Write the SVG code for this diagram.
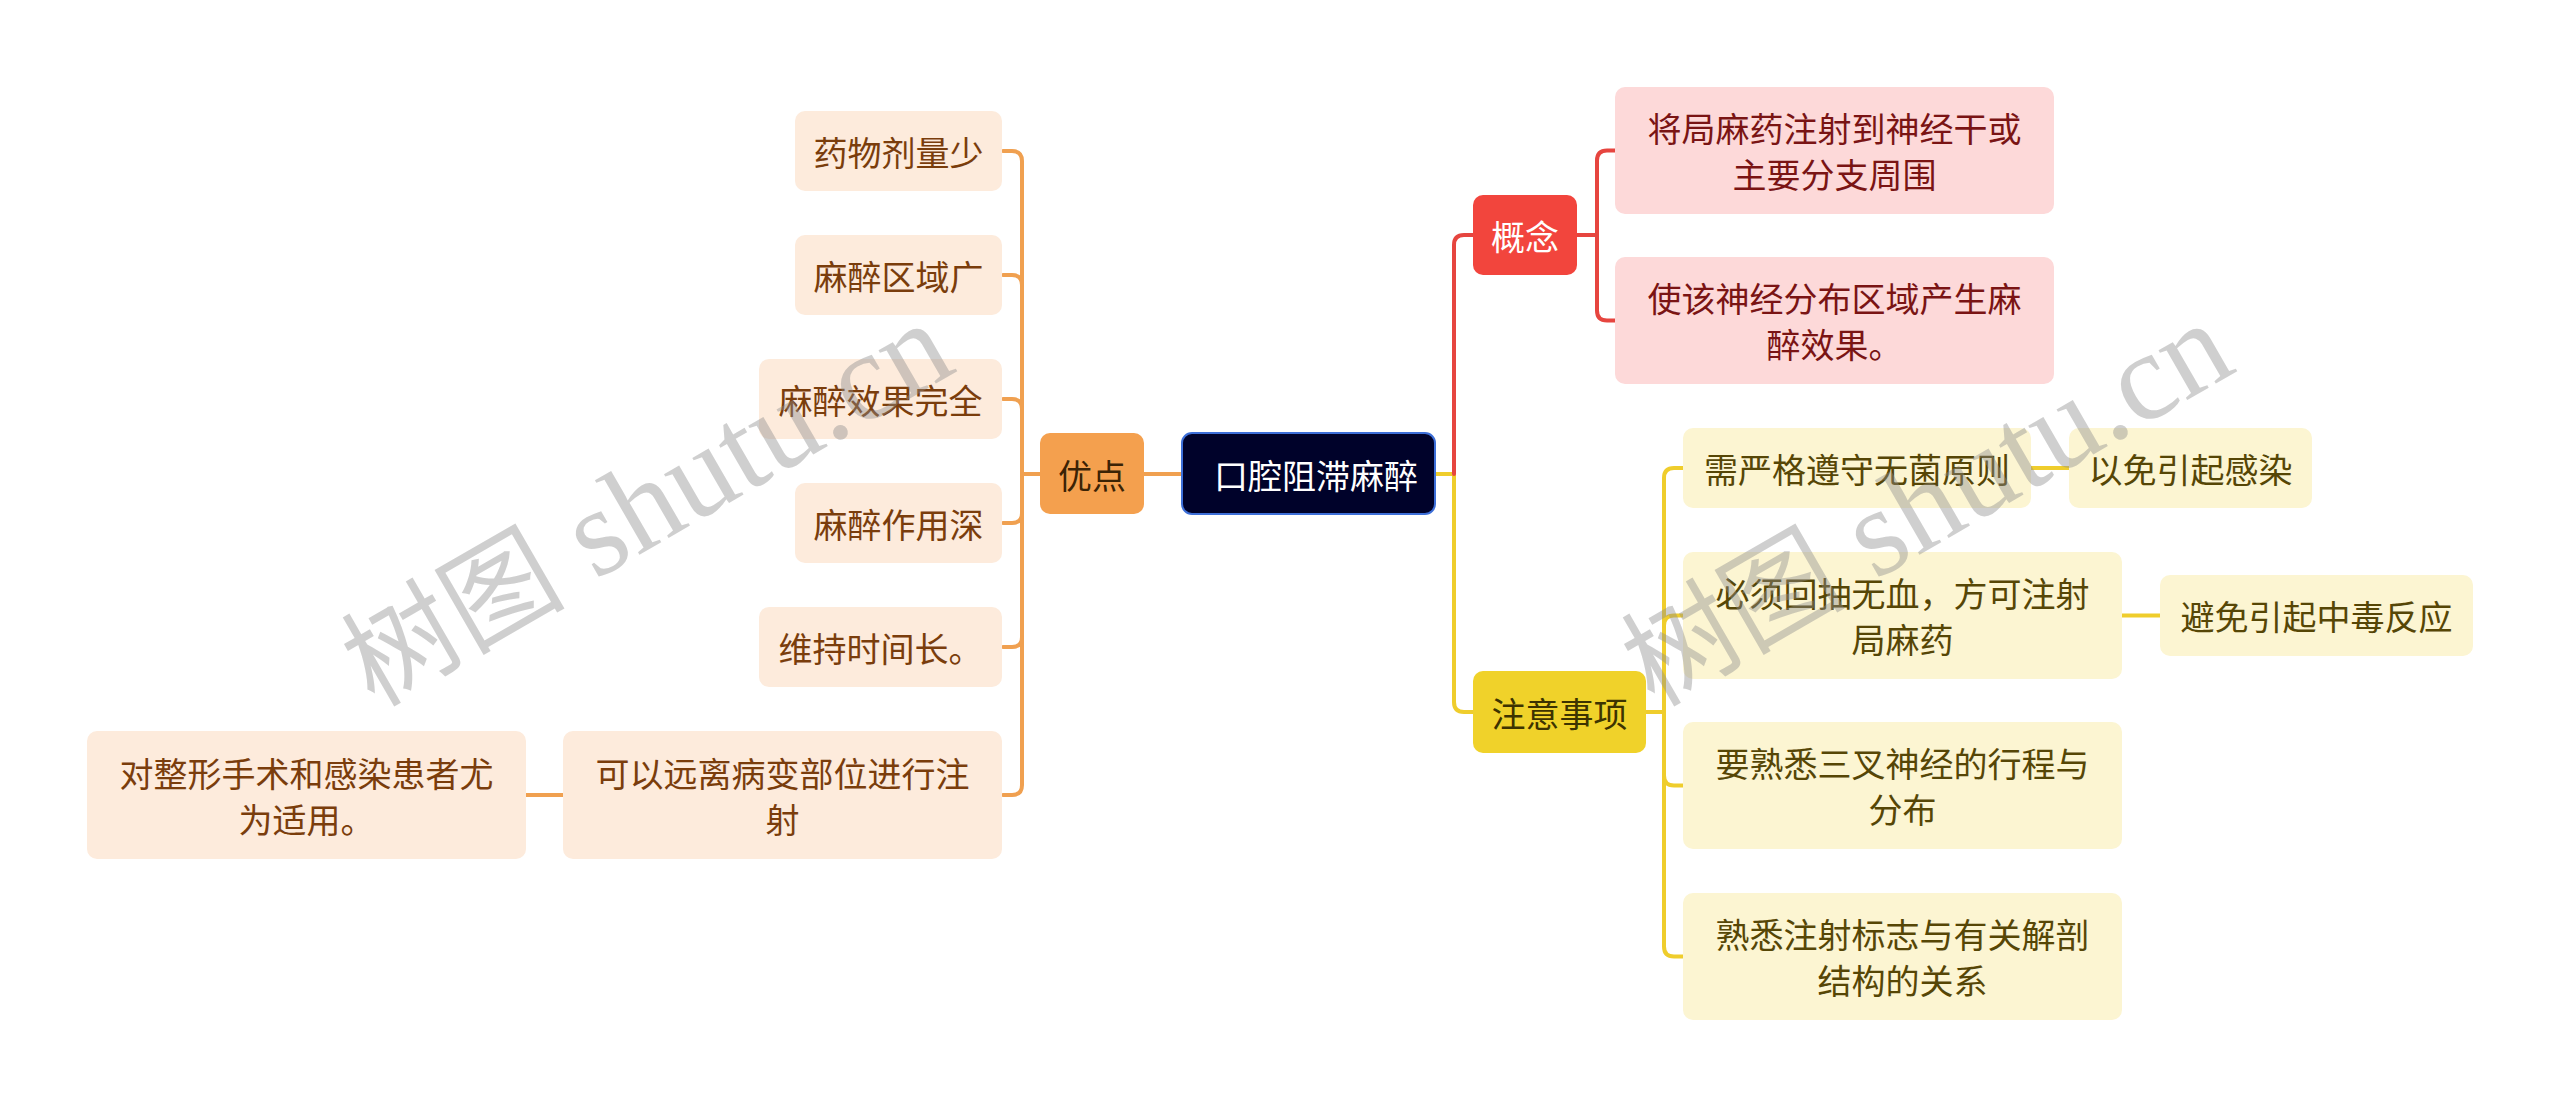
<svg xmlns="http://www.w3.org/2000/svg" width="2560" height="1107" viewBox="0 0 2560 1107">
<style>
text{font-family:"Noto Sans CJK SC","Noto Sans",sans-serif;font-size:34px;text-anchor:middle;dominant-baseline:central}
.ln{fill:none;stroke-width:4;stroke-linecap:round;stroke-linejoin:round}
.o{stroke:#f0a050}.r{stroke:#e6453f}.y{stroke:#efcd2c}
.ob{fill:#fdebdc}.ot{fill:#7a3d0c}
.rb{fill:#fdd9d9}.rt{fill:#7a1414}
.yb{fill:#fcf5d2}.yt{fill:#564606}
.wm{font-family:"Liberation Serif","Noto Sans CJK SC",serif;font-size:125px;text-anchor:start;dominant-baseline:alphabetic;fill:#8c8c8c;fill-opacity:0.42}
.wc{font-family:"Noto Sans CJK SC",serif;font-size:112px}
</style>
<rect width="2560" height="1107" fill="#ffffff"/>
<g id="connectors">
<path class="ln o" d="M1182 474H1144"/>
<path class="ln o" d="M1040 474H1022"/>
<path class="ln o" d="M1003 151H1012Q1022 151 1022 161V785Q1022 795 1012 795H1003"/>
<path class="ln o" d="M1003 275H1012Q1022 275 1022 285"/>
<path class="ln o" d="M1003 399H1012Q1022 399 1022 409"/>
<path class="ln o" d="M1003 523H1012Q1022 523 1022 513"/>
<path class="ln o" d="M1003 647H1012Q1022 647 1022 637"/>
<path class="ln o" d="M563 795H526"/>
<path class="ln y" d="M1435 474H1454V702Q1454 712 1464 712H1473"/>
<path class="ln r" d="M1454 474V245Q1454 235 1464 235H1473"/>
<path class="ln r" d="M1577 235H1597"/>
<path class="ln r" d="M1615 150.5H1607Q1597 150.5 1597 160.5V310.5Q1597 320.5 1607 320.5H1615"/>
<path class="ln y" d="M1646 712H1664"/>
<path class="ln y" d="M1683 468H1674Q1664 468 1664 478V946.5Q1664 956.5 1674 956.5H1683"/>
<path class="ln y" d="M1683 615.5H1674Q1664 615.5 1664 625.5"/>
<path class="ln y" d="M1683 785.5H1674Q1664 785.5 1664 775.5"/>
<path class="ln y" d="M2031 468H2069"/>
<path class="ln y" d="M2122 615.5H2160"/>
</g>
<g id="root"><rect x="1182" y="433" width="253" height="81" rx="10" fill="#00022a" stroke="#3d6fd8" stroke-width="2"/><text x="1316" y="474" fill="#ffffff">口腔阻滞麻醉</text></g>
<g id="youdian"><rect x="1040" y="433" width="104" height="81" rx="10" fill="#f4a04e"/><text x="1092" y="474" fill="#3b2305">优点</text></g>
<g id="o1"><rect class="ob" x="795" y="111" width="207" height="80" rx="10"/><text class="ot" x="898.5" y="151">药物剂量少</text></g>
<g id="o2"><rect class="ob" x="795" y="235" width="207" height="80" rx="10"/><text class="ot" x="898.5" y="275">麻醉区域广</text></g>
<g id="o3"><rect class="ob" x="759" y="359" width="243" height="80" rx="10"/><text class="ot" x="880.5" y="399">麻醉效果完全</text></g>
<g id="o4"><rect class="ob" x="795" y="483" width="207" height="80" rx="10"/><text class="ot" x="898.5" y="523">麻醉作用深</text></g>
<g id="o5"><rect class="ob" x="759" y="607" width="243" height="80" rx="10"/><text class="ot" x="880.5" y="647">维持时间长。</text></g>
<g id="o6"><rect class="ob" x="563" y="731" width="439" height="128" rx="10"/><text class="ot" x="782.5" y="772">可以远离病变部位进行注</text><text class="ot" x="782.5" y="818">射</text></g>
<g id="o7"><rect class="ob" x="87" y="731" width="439" height="128" rx="10"/><text class="ot" x="306.5" y="772">对整形手术和感染患者尤</text><text class="ot" x="306.5" y="818">为适用。</text></g>
<g id="gainian"><rect x="1473" y="195" width="104" height="80" rx="10" fill="#f2453d"/><text x="1525" y="235" fill="#ffffff">概念</text></g>
<g id="r1"><rect class="rb" x="1615" y="87" width="439" height="127" rx="10"/><text class="rt" x="1834.5" y="127.5">将局麻药注射到神经干或</text><text class="rt" x="1834.5" y="173.5">主要分支周围</text></g>
<g id="r2"><rect class="rb" x="1615" y="257" width="439" height="127" rx="10"/><text class="rt" x="1834.5" y="297.5">使该神经分布区域产生麻</text><text class="rt" x="1834.5" y="343.5">醉效果。</text></g>
<g id="zhuyi"><rect x="1473" y="671" width="173" height="82" rx="10" fill="#f0d22a"/><text x="1559.5" y="712" fill="#3d3300">注意事项</text></g>
<g id="y1"><rect class="yb" x="1683" y="428" width="348" height="80" rx="10"/><text class="yt" x="1857" y="468">需严格遵守无菌原则</text></g>
<g id="y1a"><rect class="yb" x="2069" y="428" width="243" height="80" rx="10"/><text class="yt" x="2190.5" y="468">以免引起感染</text></g>
<g id="y2"><rect class="yb" x="1683" y="552" width="439" height="127" rx="10"/><text class="yt" x="1902.5" y="592.5">必须回抽无血，方可注射</text><text class="yt" x="1902.5" y="638.5">局麻药</text></g>
<g id="y2a"><rect class="yb" x="2160" y="575" width="313" height="81" rx="10"/><text class="yt" x="2316.5" y="615.5">避免引起中毒反应</text></g>
<g id="y3"><rect class="yb" x="1683" y="722" width="439" height="127" rx="10"/><text class="yt" x="1902.5" y="762.5">要熟悉三叉神经的行程与</text><text class="yt" x="1902.5" y="808.5">分布</text></g>
<g id="y4"><rect class="yb" x="1683" y="893" width="439" height="127" rx="10"/><text class="yt" x="1902.5" y="933.5">熟悉注射标志与有关解剖</text><text class="yt" x="1902.5" y="979.5">结构的关系</text></g>
<g id="watermark">
<text class="wm" transform="translate(374,708) rotate(-30)"><tspan class="wc">树图</tspan> shutu.cn</text>
<text class="wm" transform="translate(1654,708) rotate(-30)"><tspan class="wc">树图</tspan> shutu.cn</text>
</g>
</svg>
